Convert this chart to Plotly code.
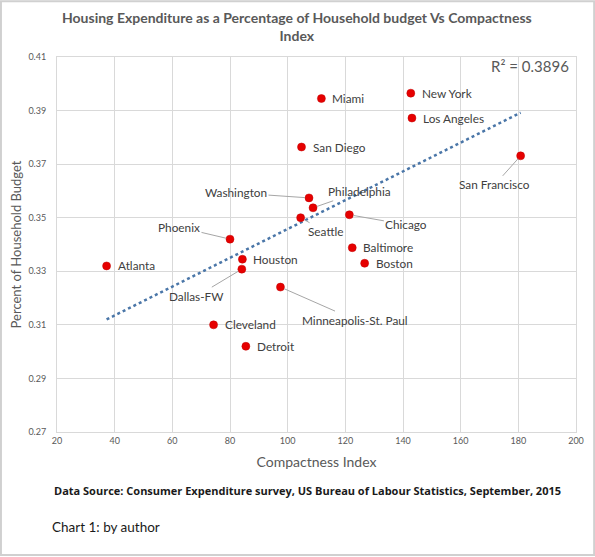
import numpy as np
import plotly.graph_objects as go

# city data
cities = ["Atlanta", "Phoenix", "Houston", "Dallas-FW", "Cleveland", "Detroit",
          "Minneapolis-St. Paul", "Seattle", "San Diego", "Washington", "Philadelphia",
          "Miami", "Chicago", "Baltimore", "Boston", "New York", "Los Angeles",
          "San Francisco"]
compactness = [37.2, 80.0, 84.3, 84.1, 74.3, 85.5, 97.5, 104.5, 104.8, 107.4, 108.8,
               111.7, 121.4, 122.4, 126.7, 142.7, 143.1, 180.8]
housing_share = [0.332, 0.342, 0.3345, 0.3308, 0.310, 0.302, 0.3241, 0.350, 0.3764,
                 0.3574, 0.3537, 0.3945, 0.3511, 0.3388, 0.333, 0.3965, 0.3872, 0.3731]
r2_text = "R² = 0.3896"

# labels that sit away from their point with a leader line (pixel offsets)
leaders = {
    "Washington": (-73, -5),
    "Philadelphia": (46, -16),
    "Seattle": (25, 14),
    "Chicago": (57, 10),
    "Phoenix": (-51, -12),
    "Dallas-FW": (-45, 27),
    "Minneapolis-St. Paul": (75, 33),
    "San Francisco": (-26, 29),
}

grey = "#595959"
label_font = dict(family="Lato, sans-serif", size=11.8, color="#404040")

# linear trendline
slope, intercept = np.polyfit(compactness, housing_share, 1)
trend_x = [min(compactness), max(compactness)]
trend_y = [slope * v + intercept for v in trend_x]

fig = go.Figure()
fig.add_trace(go.Scatter(
    x=trend_x, y=trend_y, mode="lines",
    line=dict(color="#4a76a8", width=2.5, dash="dot"),
    hoverinfo="skip", showlegend=False,
))
fig.add_trace(go.Scatter(
    x=compactness, y=housing_share, mode="markers", text=cities,
    marker=dict(color="#e60000", size=8, line=dict(color="#c00000", width=0.5)),
    showlegend=False,
))

for name, cx, cy in zip(cities, compactness, housing_share):
    if name in leaders:
        ax, ay = leaders[name]
        fig.add_annotation(x=cx, y=cy, text=name, showarrow=True, arrowhead=0,
                           arrowwidth=1, arrowcolor="#a6a6a6", ax=ax, ay=ay,
                           standoff=4, font=label_font)
    else:
        fig.add_annotation(x=cx, y=cy, text=name, showarrow=False, xanchor="left",
                           xshift=9, font=label_font)

# title as a centred annotation over the whole picture
fig.add_annotation(
    text="<b>Housing Expenditure as a Percentage of Household budget Vs Compactness<br>Index</b>",
    xref="paper", yref="paper", x=0.462, y=1.08, xanchor="center", yanchor="middle",
    showarrow=False, font=dict(family="Lato, sans-serif", size=14, color=grey))
fig.add_annotation(text=r2_text, xref="paper", yref="paper", x=0.99, y=0.976,
                   xanchor="right", yanchor="middle", showarrow=False,
                   font=dict(family="Lato, sans-serif", size=15, color=grey))
fig.add_annotation(
    text="<b>Data Source: Consumer Expenditure survey, US Bureau of Labour Statistics, September, 2015</b>",
    xref="paper", yref="paper", x=-0.0096, y=-0.157, xanchor="left", yanchor="middle",
    showarrow=False, font=dict(family="Open Sans, sans-serif", size=11, color="#1a1a1a"))
fig.add_annotation(text="Chart 1: by author", xref="paper", yref="paper", x=-0.0135,
                   y=-0.253, xanchor="left", yanchor="middle", showarrow=False,
                   font=dict(family="Lato, sans-serif", size=13.5, color="#1a1a1a"))

# light frame round the whole picture
fig.add_shape(type="rect", xref="paper", yref="paper", x0=-0.108, x1=1.035,
              y0=-0.328, y1=1.149, line=dict(color="#d0d0d0", width=2))

fig.update_layout(
    width=595, height=557,
    margin=dict(l=57, r=19, t=57, b=125),
    paper_bgcolor="white", plot_bgcolor="white",
    xaxis=dict(
        range=[20, 200], dtick=20, tick0=20,
        showgrid=True, gridcolor="#d9d9d9", gridwidth=1,
        showline=True, linecolor="#d9d9d9", mirror=True, zeroline=False,
        tickfont=dict(family="Lato, sans-serif", size=9, color=grey),
        title=dict(text="Compactness Index", standoff=12,
                   font=dict(family="Lato, sans-serif", size=14, color=grey)),
    ),
    yaxis=dict(
        range=[0.27, 0.41], dtick=0.02, tick0=0.27, tickformat=".2f",
        showgrid=True, gridcolor="#d9d9d9", gridwidth=1,
        showline=True, linecolor="#d9d9d9", mirror=True, zeroline=False,
        ticklabelstandoff=8,
        tickfont=dict(family="Lato, sans-serif", size=9, color=grey),
        title=dict(text="Percent of Household Budget", standoff=3,
                   font=dict(family="Lato, sans-serif", size=13, color=grey)),
    ),
)

# drop the browser's default page margin so the figure sits at the top-left corner
fig.write_html("out.html", config={"displayModeBar": False},
               post_script="document.body.style.margin='0';")
